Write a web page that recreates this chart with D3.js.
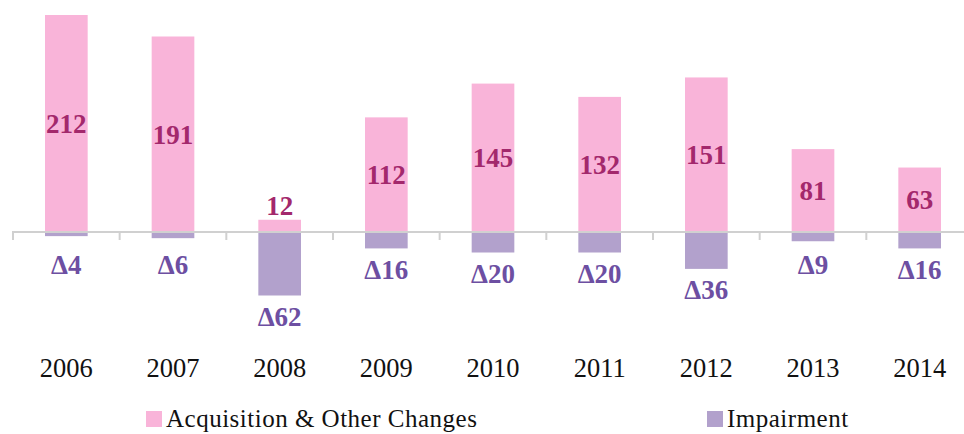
<!DOCTYPE html>
<html>
<head>
<meta charset="utf-8">
<script src="https://cdn.jsdelivr.net/npm/d3@7"></script>
<style>
  body { margin: 0; background: #fff; }
  svg { display: block; font-family: "Liberation Serif", "Times New Roman", serif; }
</style>
</head>
<body>
<svg id="chart" width="964" height="434"></svg>
<script>
const years = ['2006','2007','2008','2009','2010','2011','2012','2013','2014'];
const acquisition = [212, 191, 12, 112, 145, 132, 151, 81, 63];
const impairment = [-4, -6, -62, -16, -20, -20, -36, -9, -16];
const legendLabels = ['Acquisition & Other Changes', 'Impairment'];

const pink = '#f9b4d9', purple = '#b2a1cc';
const pinkText = '#a3286c', purpleText = '#6d4fa2';

let svg = d3.select('#chart'),
    width = 964, height = 434;

let x = d3.scaleBand()
    .domain(years)
    .range([13, 973])
    .paddingInner(0.6)
    .paddingOuter(0.3);

let y = d3.scaleLinear()
    .domain([-62, 212])
    .range([295.5, 15]);

let step = x.step(), x0 = x.range()[0];

// bars
svg.selectAll('.acq')
  .data(acquisition)
  .enter().append('rect')
    .attr('class', 'acq')
    .attr('x', (d, i) => x(years[i]))
    .attr('width', x.bandwidth())
    .attr('y', d => y(d))
    .attr('height', d => y(0) - y(d))
    .attr('fill', pink);

svg.selectAll('.imp')
  .data(impairment)
  .enter().append('rect')
    .attr('class', 'imp')
    .attr('x', (d, i) => x(years[i]))
    .attr('width', x.bandwidth())
    .attr('y', y(0))
    .attr('height', d => y(d) - y(0))
    .attr('fill', purple);

// axis line + ticks
let axisY = y(0);
svg.append('line')
    .attr('x1', 12).attr('x2', width)
    .attr('y1', axisY).attr('y2', axisY)
    .attr('stroke', '#d0d0d0').attr('stroke-width', 2);

svg.selectAll('.tick')
  .data(d3.range(years.length + 1))
  .enter().append('line')
    .attr('x1', i => x0 + i * step).attr('x2', i => x0 + i * step)
    .attr('y1', axisY).attr('y2', axisY + 8)
    .attr('stroke', '#d0d0d0').attr('stroke-width', 2);

// value labels
svg.selectAll('.acqLabel')
  .data(acquisition)
  .enter().append('text')
    .attr('x', (d, i) => x(years[i]) + x.bandwidth() / 2)
    .attr('y', d => {
      let h = y(0) - y(d);
      return h > 30 ? (y(d) + y(0)) / 2 : y(d) - 14;
    })
    .attr('dy', '0.35em')
    .attr('text-anchor', 'middle')
    .attr('font-size', 27)
    .attr('font-weight', 'bold')
    .attr('fill', pinkText)
    .text(d => d);

svg.selectAll('.impLabel')
  .data(impairment)
  .enter().append('text')
    .attr('x', (d, i) => x(years[i]) + x.bandwidth() / 2)
    .attr('y', d => Math.max(y(d) + 21, 265))
    .attr('dy', '0.35em')
    .attr('text-anchor', 'middle')
    .attr('font-size', 27)
    .attr('font-weight', 'bold')
    .attr('fill', purpleText)
    .text(d => '\u0394' + Math.abs(d));

// year labels
svg.selectAll('.year')
  .data(years)
  .enter().append('text')
    .attr('x', d => x(d) + x.bandwidth() / 2)
    .attr('y', 377)
    .attr('text-anchor', 'middle')
    .attr('font-size', 26.5)
    .attr('fill', '#111')
    .text(d => d);

// legend
let legendX = [146, 707];
let legend = svg.selectAll('.legend')
  .data(legendLabels)
  .enter().append('g')
    .attr('transform', (d, i) => 'translate(' + legendX[i] + ',411)');

legend.append('rect')
    .attr('width', 16).attr('height', 16)
    .attr('fill', (d, i) => i === 0 ? pink : purple);

legend.append('text')
    .attr('x', 20)
    .attr('y', 16)
    .attr('font-size', 25)
    .attr('letter-spacing', 0.5)
    .attr('fill', '#111')
    .text(d => d);
</script>
</body>
</html>
